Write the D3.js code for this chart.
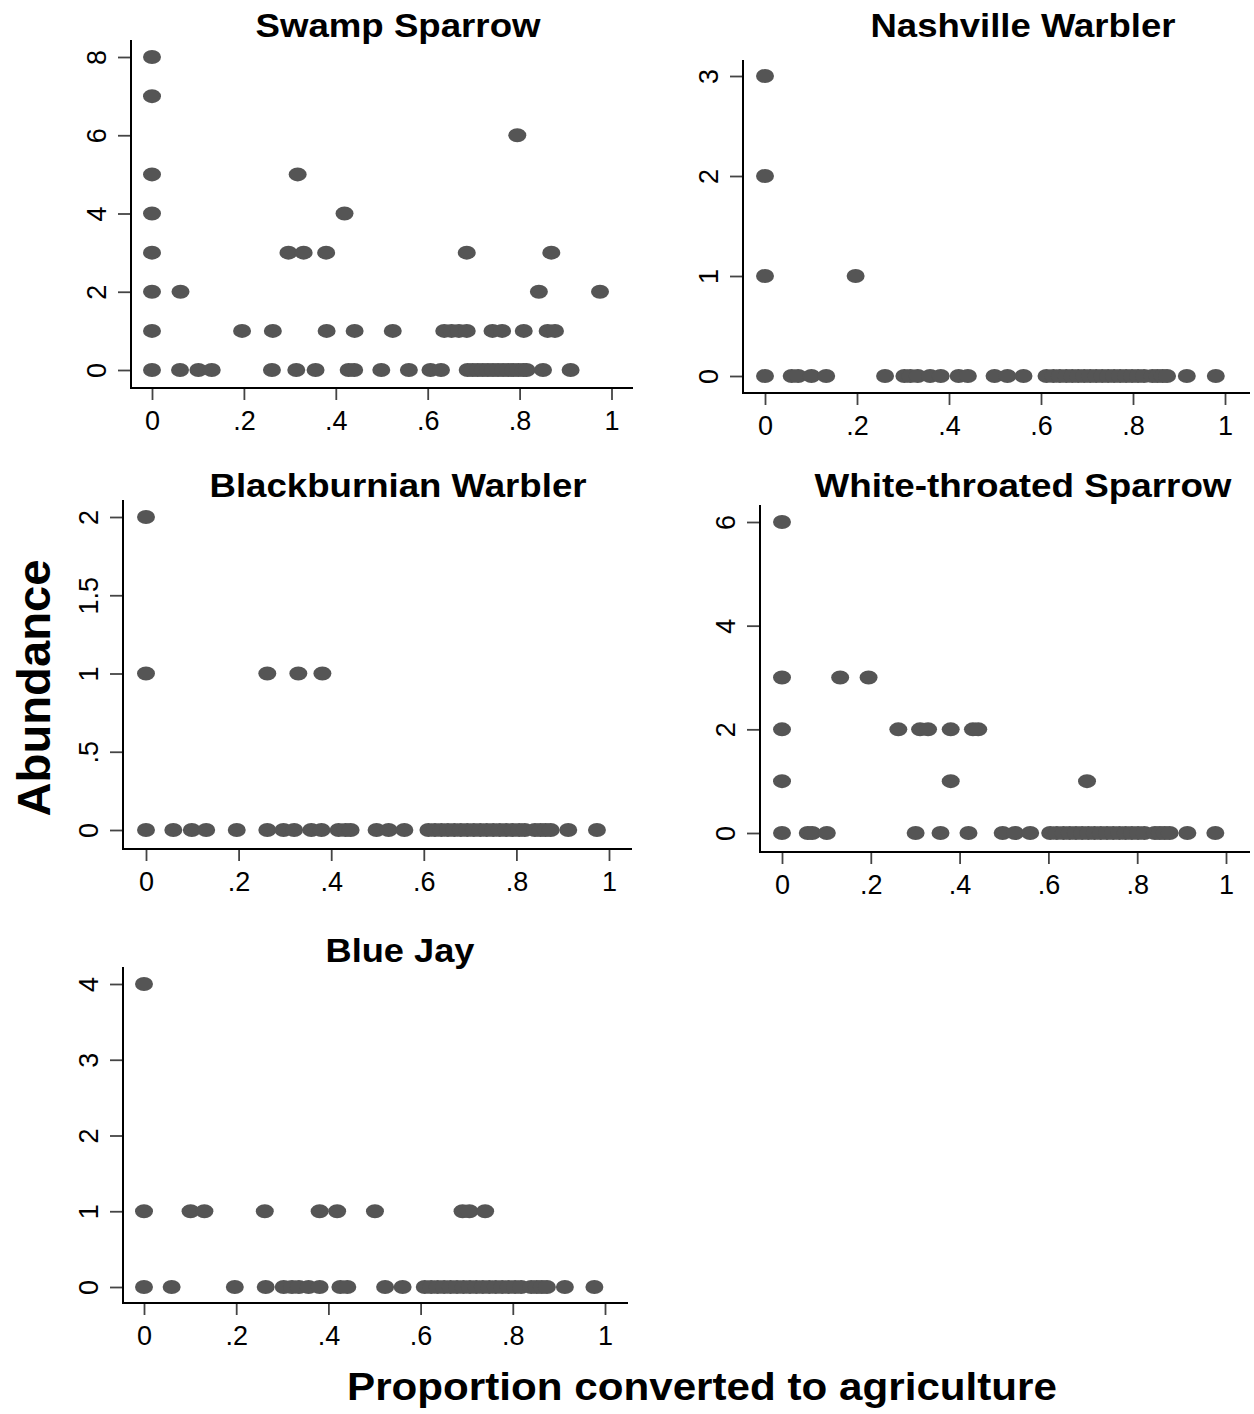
<!DOCTYPE html>
<html>
<head>
<meta charset="utf-8">
<script src="https://cdn.jsdelivr.net/npm/d3@7"></script>
<style>
  body { margin: 0; background: #fff; }
  text { font-family: "Liberation Sans", Arial, Helvetica, sans-serif; }
</style>
</head>
<body>
<svg id="chart" width="1254" height="1414"></svg>
<script>
// data: [proportion converted, abundance]
const speciesNames = ["Swamp Sparrow", "Nashville Warbler", "Blackburnian Warbler", "White-throated Sparrow", "Blue Jay"];
const xTickValues = [0, 0.2, 0.4, 0.6, 0.8, 1];
const yTickValues = [[0, 2, 4, 6, 8], [0, 1, 2, 3], [0, 0.5, 1, 1.5, 2], [0, 2, 4, 6], [0, 1, 2, 3, 4]];

const swampSparrow = [
  [0, 8], [0, 7], [0.795, 6], [0, 5], [0.317, 5], [0, 4], [0.419, 4],
  [0, 3], [0.297, 3], [0.330, 3], [0.379, 3], [0.685, 3], [0.869, 3],
  [0, 2], [0.062, 2], [0.842, 2], [0.975, 2],
  [0, 1], [0.196, 1], [0.263, 1], [0.380, 1], [0.441, 1], [0.524, 1], [0.636, 1], [0.652, 1], [0.668, 1],
  [0.685, 1], [0.741, 1], [0.762, 1], [0.809, 1], [0.861, 1], [0.877, 1],
  [0, 0], [0.061, 0], [0.101, 0], [0.130, 0], [0.261, 0], [0.314, 0], [0.356, 0], [0.428, 0], [0.440, 0],
  [0.499, 0], [0.559, 0], [0.606, 0], [0.629, 0], [0.687, 0], [0.698, 0], [0.709, 0], [0.720, 0], [0.731, 0],
  [0.742, 0], [0.753, 0], [0.764, 0], [0.775, 0], [0.786, 0], [0.797, 0], [0.808, 0], [0.815, 0], [0.851, 0], [0.911, 0]
];

const nashvilleWarbler = [
  [0, 3], [0, 2], [0, 1], [0.197, 1],
  [0, 0], [0.058, 0], [0.072, 0], [0.101, 0], [0.133, 0], [0.261, 0], [0.303, 0], [0.316, 0], [0.332, 0],
  [0.359, 0], [0.382, 0], [0.421, 0], [0.441, 0], [0.499, 0], [0.527, 0], [0.562, 0], [0.612, 0], [0.627, 0],
  [0.641, 0], [0.655, 0], [0.668, 0], [0.681, 0], [0.694, 0], [0.707, 0], [0.720, 0], [0.733, 0], [0.746, 0],
  [0.759, 0], [0.772, 0], [0.785, 0], [0.798, 0], [0.811, 0], [0.824, 0], [0.842, 0], [0.853, 0], [0.864, 0],
  [0.874, 0], [0.917, 0], [0.980, 0]
];

const blackburnianWarbler = [
  [0, 2], [0, 1], [0.262, 1], [0.329, 1], [0.381, 1],
  [0, 0], [0.059, 0], [0.099, 0], [0.130, 0], [0.196, 0], [0.262, 0], [0.297, 0], [0.320, 0], [0.357, 0],
  [0.379, 0], [0.416, 0], [0.431, 0], [0.442, 0], [0.498, 0], [0.524, 0], [0.558, 0], [0.610, 0], [0.624, 0],
  [0.638, 0], [0.652, 0], [0.666, 0], [0.680, 0], [0.694, 0], [0.708, 0], [0.722, 0], [0.736, 0], [0.750, 0],
  [0.764, 0], [0.778, 0], [0.792, 0], [0.806, 0], [0.818, 0], [0.840, 0], [0.852, 0], [0.863, 0], [0.874, 0],
  [0.912, 0], [0.974, 0]
];

const whiteThroatedSparrow = [
  [0, 6], [0, 3], [0.131, 3], [0.195, 3],
  [0, 2], [0.262, 2], [0.311, 2], [0.329, 2], [0.380, 2], [0.430, 2], [0.442, 2],
  [0, 1], [0.380, 1], [0.687, 1],
  [0, 0], [0.058, 0], [0.068, 0], [0.101, 0], [0.301, 0], [0.357, 0], [0.420, 0], [0.497, 0], [0.525, 0],
  [0.559, 0], [0.604, 0], [0.619, 0], [0.634, 0], [0.648, 0], [0.662, 0], [0.676, 0], [0.690, 0], [0.704, 0],
  [0.718, 0], [0.732, 0], [0.746, 0], [0.760, 0], [0.774, 0], [0.788, 0], [0.802, 0], [0.816, 0], [0.840, 0],
  [0.851, 0], [0.862, 0], [0.873, 0], [0.913, 0], [0.976, 0]
];

const blueJay = [
  [0, 4],
  [0, 1], [0.101, 1], [0.131, 1], [0.262, 1], [0.381, 1], [0.419, 1], [0.501, 1], [0.691, 1], [0.706, 1], [0.740, 1],
  [0, 0], [0.060, 0], [0.197, 0], [0.264, 0], [0.303, 0], [0.321, 0], [0.336, 0], [0.357, 0], [0.381, 0],
  [0.426, 0], [0.441, 0], [0.523, 0], [0.561, 0], [0.609, 0], [0.623, 0], [0.637, 0], [0.651, 0], [0.665, 0],
  [0.679, 0], [0.693, 0], [0.707, 0], [0.721, 0], [0.735, 0], [0.749, 0], [0.763, 0], [0.777, 0], [0.791, 0],
  [0.805, 0], [0.818, 0], [0.840, 0], [0.852, 0], [0.863, 0], [0.874, 0], [0.913, 0], [0.977, 0]
];

const speciesData = [swampSparrow, nashvilleWarbler, blackburnianWarbler, whiteThroatedSparrow, blueJay];

// panel placement on the page (pixels)
const layout = [
  { ax: 131, ay: 388, x0: 152, x1: 611.5, y0: 370, yTop: 57,  top: 40,  right: 633,  tx: 398,  ty: 37,  tw: 285 },
  { ax: 743, ay: 393, x0: 765, x1: 1225,  y0: 376, yTop: 76,  top: 60,  right: 1250, tx: 1023, ty: 37,  tw: 305 },
  { ax: 123, ay: 849, x0: 146, x1: 609,   y0: 830, yTop: 517, top: 500, right: 632,  tx: 398,  ty: 497, tw: 377 },
  { ax: 760, ay: 852, x0: 782, x1: 1226,  y0: 833, yTop: 522, top: 505, right: 1250, tx: 1023, ty: 497, tw: 417 },
  { ax: 123, ay: 1303, x0: 144, x1: 605,  y0: 1287, yTop: 984, top: 967, right: 628, tx: 400,  ty: 962, tw: 149 }
];

const markerColor = "#555555";
const svg = d3.select("#chart");
svg.append("rect").attr("width", 1254).attr("height", 1414).attr("fill", "#fff");

// stata style: drop the leading zero
const fmt = d => Number.isInteger(d) ? String(d) : String(d).replace(/^0\./, ".");

speciesNames.forEach((name, i) => {
  const L = layout[i];
  const yt = yTickValues[i];
  const g = svg.append("g");

  const x = d3.scaleLinear().domain([0, 1]).range([L.x0, L.x1]);
  const y = d3.scaleLinear().domain([0, d3.max(yt)]).range([L.y0, L.yTop]);

  // x axis
  const gx = g.append("g")
    .attr("transform", `translate(0,${L.ay})`)
    .call(d3.axisBottom(x).tickValues(xTickValues).tickSize(12).tickPadding(6).tickFormat(fmt));
  gx.select(".domain").remove();
  gx.selectAll(".tick line").attr("stroke", "#444").attr("stroke-width", 1.8);
  gx.selectAll(".tick text")
    .attr("fill", "#000")
    .attr("font-size", 27)
    .attr("dy", null)
    .attr("y", 42);

  // y axis
  const gy = g.append("g")
    .attr("transform", `translate(${L.ax},0)`)
    .call(d3.axisLeft(y).tickValues(yt).tickSize(13).tickFormat(fmt));
  gy.select(".domain").remove();
  gy.selectAll(".tick line").attr("stroke", "#444").attr("stroke-width", 1.8);
  gy.selectAll(".tick text")
    .attr("fill", "#000")
    .attr("font-size", 27)
    .attr("x", 0)
    .attr("y", 0)
    .attr("dy", "0.36em")
    .attr("text-anchor", "middle")
    .attr("transform", "translate(-35,0) rotate(-90)");

  // axis lines
  g.append("line")
    .attr("x1", L.ax).attr("x2", L.ax).attr("y1", L.top).attr("y2", L.ay + 1)
    .attr("stroke", "#000").attr("stroke-width", 2);
  g.append("line")
    .attr("x1", L.ax - 1).attr("x2", L.right).attr("y1", L.ay).attr("y2", L.ay)
    .attr("stroke", "#000").attr("stroke-width", 2);

  // points
  g.append("g")
    .selectAll("ellipse")
    .data(speciesData[i])
    .join("ellipse")
    .attr("cx", d => x(d[0]))
    .attr("cy", d => y(d[1]))
    .attr("rx", 9)
    .attr("ry", 7)
    .attr("fill", markerColor);

  // title
  g.append("text")
    .attr("x", L.tx)
    .attr("y", L.ty)
    .attr("text-anchor", "middle")
    .attr("font-size", 33)
    .attr("font-weight", "bold")
    .attr("textLength", L.tw)
    .attr("lengthAdjust", "spacingAndGlyphs")
    .text(name);
});

// shared axis titles
svg.append("text")
  .attr("x", 702)
  .attr("y", 1400)
  .attr("text-anchor", "middle")
  .attr("font-size", 39)
  .attr("font-weight", "bold")
  .attr("textLength", 710)
  .attr("lengthAdjust", "spacingAndGlyphs")
  .text("Proportion converted to agriculture");

svg.append("text")
  .attr("transform", "translate(50,688) rotate(-90)")
  .attr("text-anchor", "middle")
  .attr("font-size", 47)
  .attr("font-weight", "bold")
  .attr("textLength", 257)
  .attr("lengthAdjust", "spacingAndGlyphs")
  .text("Abundance");
</script>
</body>
</html>
